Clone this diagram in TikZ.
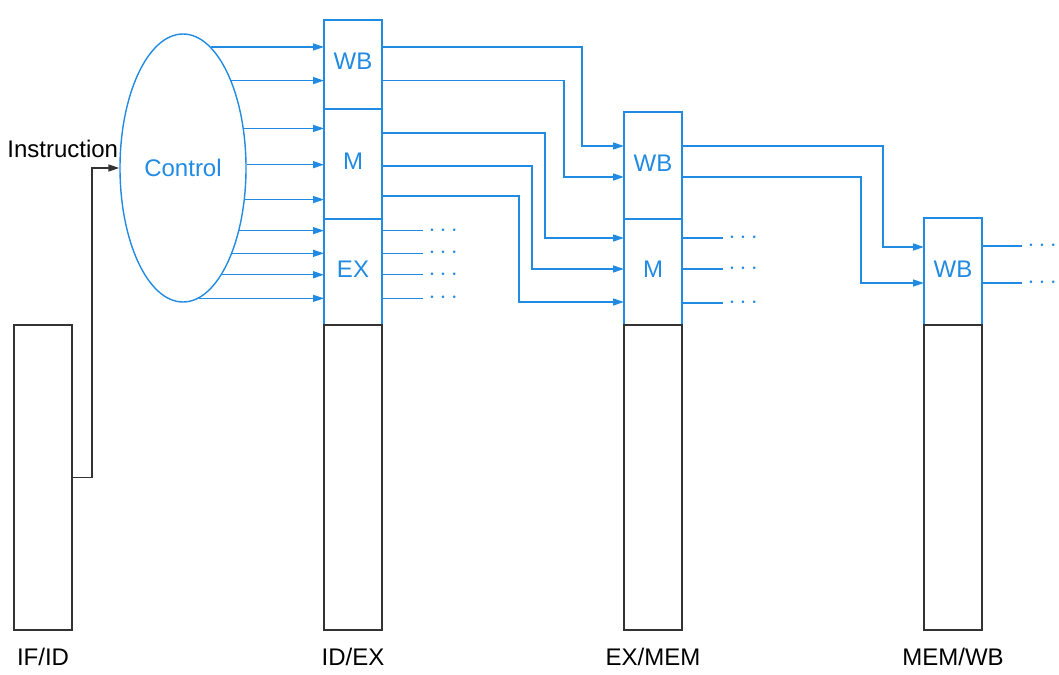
\documentclass[tikz,border=0pt]{standalone}
\usepackage{fontspec}
\setmainfont{Liberation Sans}
\usepackage{tikz}
\usetikzlibrary{arrows.meta}
\usetikzlibrary{positioning}
\usetikzlibrary{shapes.geometric}
\definecolor{cblue}{RGB}{33,139,227}
\colorlet{regline}{black!80}
\tikzstyle{tiphead}=[>/.tip={Triangle[length=11pt,width=7pt]}]
\tikzstyle{wire}=[line width=1.4pt,draw=cblue]
\tikzstyle{sig}=[wire,tiphead,->]
\tikzstyle{instr}=[line width=1.4pt,draw=regline,tiphead,->]
\tikzstyle{field}=[draw=cblue,text=cblue,line width=1.4pt,minimum width=58pt,inner sep=0pt,outer sep=0pt,anchor=north west,text height=17pt,text depth=6pt]
\tikzstyle{reg}=[draw=regline,line width=1.4pt,minimum width=58pt,minimum height=305pt,inner sep=0pt,outer sep=0pt,anchor=north west]
\tikzstyle{ctlunit}=[ellipse,draw=cblue,text=cblue,line width=1.4pt,minimum width=126pt,minimum height=268pt,inner sep=0pt]
\tikzstyle{more}=[right,inner xsep=5pt,inner ysep=0pt,text=cblue]

\begin{document}
\begin{tikzpicture}[x=1pt,y=-1pt,font=\fontsize{24}{28}\selectfont]
	\useasboundingbox (0,0) rectangle (1059,674);
	\node[ctlunit] (ctl) at (183,168) {Control};
	% pipeline registers
	\node[reg] (ifid) at (14,325) {};
	\node[field,minimum height=89pt]  (idexWB) at (324,20) {WB};
	\node[field,minimum height=110pt,below=0pt of idexWB] (idexM)  {M};
	\node[field,minimum height=106pt,below=0pt of idexM]  (idexEX) {EX};
	\node[reg,below=0pt of idexEX] (idex) {};
	\node[field,minimum height=107pt] (exmemWB) at (624,112) {WB};
	\node[field,minimum height=106pt,below=0pt of exmemWB] (exmemM) {M};
	\node[reg,below=0pt of exmemM] (exmem) {};
	\node[field,minimum height=107pt] (memwbWB) at (924,218) {WB};
	\node[reg,below=0pt of memwbWB] (memwb) {};
	\node[inner sep=0pt,below=18pt of ifid]  (ifidname)  {IF/ID};
	\node[inner sep=0pt,below=18pt of idex]  (idexname)  {ID/EX};
	\node[inner sep=0pt,below=18pt of exmem] (exmemname) {EX/MEM};
	\node[inner sep=0pt,below=18pt of memwb] (memwbname) {MEM/WB};
	% instruction into control
	\node[anchor=base east,inner sep=0pt] (instrname) at ([xshift=-1pt,yshift=11pt]ctl.west) {Instruction};
	\draw[instr] (ifid.east) -- ++(20,0) |- (ctl.west);
	% control lines into ID/EX
	\foreach \a/\f in {77.9/WB,61.2/WB,33.6/M,3.6/M,-27.6/M,-48.6/EX,-60.2/EX,-70.9/EX,-83.3/EX}
		\draw[sig] (ctl.\a) -- (ctl.\a -| idex\f.west);
	% ID/EX -> EX/MEM
	\foreach \a/\dx/\dy in {77.9/42/34,61.2/60/65}
		\draw[sig] (ctl.\a -| idexWB.east) -| ([xshift=-\dx pt,yshift=-\dy pt]exmemWB.north west) -- ([yshift=-\dy pt]exmemWB.north west);
	\foreach \s/\dx/\dy in {24/79/19,57/92/50,87/105/83}
		\draw[sig] ([yshift=-\s pt]idexM.north east) -| ([xshift=-\dx pt,yshift=-\dy pt]exmemM.north west) -- ([yshift=-\dy pt]exmemM.north west);
	\foreach \a [count=\i] in {-48.6,-60.2,-70.9,-83.3}
		\draw[wire] (ctl.\a -| idexEX.east) -- ++(41,0) node[more] (exmore\i) {$\cdots$};
	% EX/MEM -> MEM/WB
	\foreach \dy/\dx/\ty in {34/41/29,65/63/65}
		\draw[sig] ([yshift=-\dy pt]exmemWB.north east) -| ([xshift=-\dx pt,yshift=-\ty pt]memwbWB.north west) -- ([yshift=-\ty pt]memwbWB.north west);
	\foreach \dy [count=\i] in {19,50,84}
		\draw[wire] ([yshift=-\dy pt]exmemM.north east) -- ++(41,0) node[more] (mmore\i) {$\cdots$};
	\foreach \dy [count=\i] in {28,65}
		\draw[wire] ([yshift=-\dy pt]memwbWB.north east) -- ++(40,0) node[more] (wbmore\i) {$\cdots$};
\end{tikzpicture}
\end{document}
